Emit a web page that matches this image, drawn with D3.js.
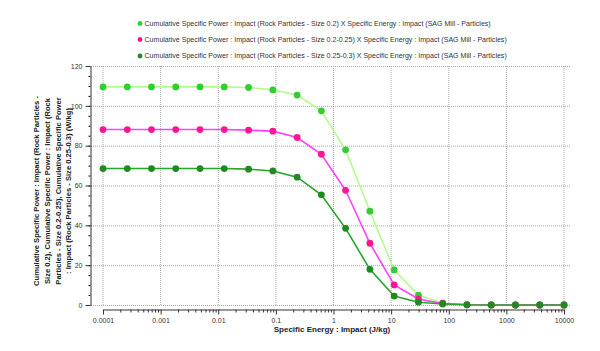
<!DOCTYPE html>
<html>
<head>
<meta charset="utf-8">
<script src="https://cdn.jsdelivr.net/npm/d3@7"></script>
<style>
  body { margin: 0; background: #fff; }
  svg { font-family: "Liberation Sans", Arial, sans-serif; }
</style>
</head>
<body>
<div id="chart"></div>
<script>
// data
var energy = [0.0001, 0.000264, 0.000695, 0.00183, 0.00483, 0.0127, 0.0336, 0.0886, 0.234, 0.616,
    1.62, 4.28, 11.3, 29.8, 78.5, 207, 546, 1438, 3793, 10000];
var size02 = [109.5, 109.5, 109.5, 109.5, 109.5, 109.5, 109.2, 108, 105.4, 97.5,
    77.9, 47.1, 17.6, 4.9, 1, 0.2, 0, 0, 0, 0];
var size0225 = [88.1, 88.1, 88.1, 88.1, 88.1, 88.1, 87.8, 87.3, 84.1, 75.7,
    57.6, 31, 10.1, 3, 0.7, 0.1, 0, 0, 0, 0];
var size02503 = [68.5, 68.5, 68.5, 68.5, 68.5, 68.5, 68.2, 67.3, 64.2, 55.3,
    38.5, 17.9, 4.5, 1.4, 0.5, 0.1, 0, 0, 0, 0];
var seriesNames = [
    "Cumulative Specific Power : Impact (Rock Particles - Size 0.2) X Specific Energy : Impact (SAG Mill - Particles)",
    "Cumulative Specific Power : Impact (Rock Particles - Size 0.2-0.25) X Specific Energy : Impact (SAG Mill - Particles)",
    "Cumulative Specific Power : Impact (Rock Particles - Size 0.25-0.3) X Specific Energy : Impact (SAG Mill - Particles)"
];
var xTicks = [0.0001, 0.001, 0.01, 0.1, 1, 10, 100, 1000, 10000];
var yTicks = [0, 20, 40, 60, 80, 100, 120];
var yLabelLines = [
    "Cumulative Specific Power : Impact (Rock Particles -",
    "Size 0.2), Cumulative Specific Power : Impact (Rock",
    "Particles - Size 0.2-0.25), Cumulative Specific Power",
    ": Impact (Rock Particles - Size 0.25-0.3) (W/kg)"
];

var series = [
    { name: seriesNames[0], values: size02, line: "#b4fc8e", dot: "#33cc33" },
    { name: seriesNames[1], values: size0225, line: "#ff40ff", dot: "#ff1493" },
    { name: seriesNames[2], values: size02503, line: "#27a527", dot: "#1f8a1f" }
];

var width = 600, height = 351;
var plot = { left: 91, right: 571, top: 66, bottom: 305 };

var svg = d3.select("#chart").append("svg")
    .attr("width", width)
    .attr("height", height);

// scales
var x = d3.scaleLog()
    .domain([0.0001, 10000])
    .range([103, 564]);
var y = d3.scaleLinear()
    .domain([0, 120])
    .range([plot.bottom, plot.top]);

// grid
var grid = svg.append("g").attr("class", "grid");
grid.selectAll(".vgrid")
    .data(xTicks)
    .enter().append("line")
    .attr("x1", function (d) { return x(d); })
    .attr("x2", function (d) { return x(d); })
    .attr("y1", plot.top)
    .attr("y2", plot.bottom)
    .attr("stroke", "#a8a8a8")
    .attr("stroke-dasharray", "1,1");
grid.selectAll(".hgrid")
    .data(yTicks)
    .enter().append("line")
    .attr("x1", plot.left)
    .attr("x2", plot.right)
    .attr("y1", function (d) { return y(d) + 0.5; })
    .attr("y2", function (d) { return y(d) + 0.5; })
    .attr("stroke", "#a8a8a8")
    .attr("stroke-dasharray", "1,1");

// y axis with minor ticks
var yMinor = d3.range(0, 121, 5);
var yAxisG = svg.append("g")
    .attr("transform", "translate(" + (plot.left - 0.5) + ",0)");
yAxisG.append("g")
    .call(d3.axisLeft(y).tickValues(yMinor).tickSize(2).tickFormat(""))
    .call(function (g) { g.select(".domain").remove(); });
yAxisG.append("g")
    .call(d3.axisLeft(y).tickValues(yTicks).tickSize(5).tickSizeOuter(0).tickPadding(3))
    .call(function (g) {
        g.selectAll("text").attr("font-size", 7).attr("fill", "#333").attr("font-family", "Liberation Sans, Arial, sans-serif");
        g.selectAll("line, path").attr("stroke", "#333");
    });

// x axis with minor log ticks
var xMinor = [];
for (var e = -4; e < 4; e++) {
    for (var m = 2; m < 10; m++) xMinor.push(m * Math.pow(10, e));
}
var xAxisG = svg.append("g")
    .attr("transform", "translate(0," + (plot.bottom + 4.5) + ")");
xAxisG.append("g")
    .call(d3.axisBottom(x).tickValues(xMinor).tickSize(3).tickFormat(""))
    .call(function (g) { g.select(".domain").remove(); g.selectAll("line").attr("stroke", "#333"); });
xAxisG.append("g")
    .call(d3.axisBottom(x).tickValues(xTicks).tickSize(5).tickSizeOuter(0).tickPadding(4)
        .tickFormat(function (d) { return d < 1 ? d3.format("")(d) : d3.format("d")(d); }))
    .call(function (g) {
        g.selectAll("text").attr("font-size", 7).attr("fill", "#333").attr("font-family", "Liberation Sans, Arial, sans-serif");
        g.selectAll("line, path").attr("stroke", "#333");
    });

// x-axis label
svg.append("text")
    .attr("x", 332)
    .attr("y", 332)
    .attr("text-anchor", "middle")
    .attr("font-size", 8)
    .attr("font-weight", "bold")
    .attr("fill", "#222")
    .text("Specific Energy : Impact (J/kg)");

// y-axis label, several lines
var yLab = svg.append("text")
    .attr("transform", "translate(39,191) rotate(-90)")
    .attr("text-anchor", "middle")
    .attr("font-size", 7.6)
    .attr("font-weight", "bold")
    .attr("fill", "#222");
yLab.selectAll("tspan")
    .data(yLabelLines)
    .enter().append("tspan")
    .attr("x", 0)
    .attr("y", function (d, i) { return i * 10.8; })
    .text(function (d) { return d; });

// lines and points
var line = d3.line()
    .x(function (d, i) { return x(energy[i]); })
    .y(function (d) { return y(d); });

series.forEach(function (s) {
    svg.append("path")
        .datum(s.values)
        .attr("fill", "none")
        .attr("stroke", s.line)
        .attr("stroke-width", 1.6)
        .attr("d", line);
});
series.forEach(function (s) {
    svg.append("g").selectAll("circle")
        .data(s.values)
        .enter().append("circle")
        .attr("cx", function (d, i) { return x(energy[i]); })
        .attr("cy", function (d) { return y(d); })
        .attr("r", 3.4)
        .attr("fill", s.dot);
});

// legend
var legend = svg.append("g");
var legendY = [23.5, 39.5, 56];
series.forEach(function (s, i) {
    legend.append("circle")
        .attr("cx", 140)
        .attr("cy", legendY[i])
        .attr("r", 2.4)
        .attr("fill", s.dot);
    legend.append("text")
        .attr("x", 144.5)
        .attr("y", legendY[i] + 2.4)
        .attr("font-size", 7.05)
        .attr("fill", "#333")
        .text(s.name);
});
</script>
</body>
</html>
